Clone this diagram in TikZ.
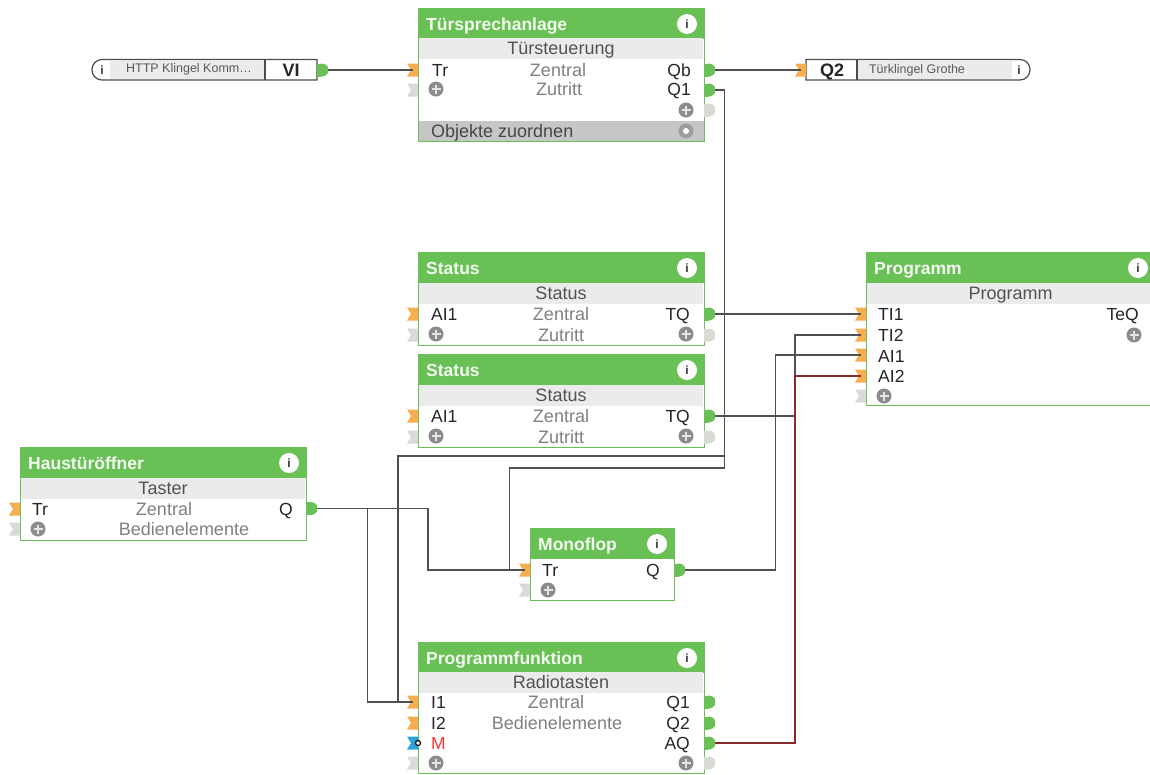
\documentclass[tikz,border=0pt]{standalone}
\usepackage{fontspec}
\setmainfont{Liberation Sans}
\definecolor{lxgreen}{HTML}{69C054}
\definecolor{lxband}{HTML}{EBEBEB}
\definecolor{lxfoot}{HTML}{C6C6C6}
\definecolor{lxorange}{HTML}{F7AE50}
\definecolor{lxpale}{HTML}{DADAD6}
\definecolor{lxicon}{HTML}{8C8C8C}
\definecolor{lxwire}{HTML}{505050}
\definecolor{lxred}{HTML}{8A2B2B}
\definecolor{lxblue}{HTML}{2CA3DC}
\newcommand\fsz[1]{\fontsize{#1}{#1}\selectfont}
\tikzset{
  x=1pt,y=-1pt,
  fixedline/.style={text height=12.4pt,text depth=0pt,inner sep=0pt},
  blockbody/.style={draw=lxgreen,line width=1pt,fill=white,inner sep=0pt,outer sep=0pt,rectangle},
  titletext/.style={fixedline,font=\fsz{17.5}\bfseries,text=white!92!lxgreen,anchor=west},
  subtext/.style={fixedline,font=\fsz{18},text=black!68},
  porttext/.style={fixedline,font=\fsz{17.5},text=black!85},
  fainttext/.style={fixedline,font=\fsz{18},text=black!50},
  wire/.style={draw=lxwire,line width=1.4pt},
  redwire/.style={draw=lxred,line width=1.4pt},
  objbox/.style={draw=black!70,line width=1.2pt,fill=white},
  objtext/.style={font=\fsz{12.5},text=black!65,inner sep=0pt},
  objpin/.style={fixedline,font=\fsz{18}\bfseries,text=black!85},
  roundicon/.style={circle,fill=lxicon,minimum size=15pt,inner sep=0pt,outer sep=0pt},
  infoicon/.style={circle,fill=white,minimum size=20pt,inner sep=0pt,outer sep=0pt,font=\fsz{12}\bfseries,text=black!80},
  smallinfo/.style={inner sep=0pt,font=\fsz{12}\bfseries,text=black!80},
}
% name x1 y1 x2 y2 title
\newcommand\lxblock[6]{%
  \node[blockbody,minimum width={(#4-#2)*1pt},minimum height={(#5-#3)*1pt}] (#1) at ({(#2+#4)/2},{(#3+#5)/2}) {};
  \fill[lxgreen] (#2-0.5,#3-0.5) rectangle (#4+0.5,#3+30.5);
  \node[titletext] (#1title) at (#2+8,#3+16) {#6};
  \node[infoicon] (#1info) at (#4-17,#3+16) {i};
}
% name x1 y x2 text : grey band
\newcommand\lxband[5]{%
  \fill[lxband] (#2+1,#3) rectangle (#4-1,#3+21);
  \node[subtext] (#1sub) at ({(#2+#4)/2},#3+10.5) {#5};
}
% name x y colour : entry pin, right edge at x
\newcommand\lxin[4]{%
  \fill[#4] (#2-11,#3-6.5) -- (#2,#3-6.5) -- (#2,#3+6.5) -- (#2-11,#3+6.5) -- (#2-7,#3) -- cycle;
  \coordinate (#1) at (#2-5,#3);
}
% name x y colour : exit pin, left edge at x
\newcommand\lxout[4]{%
  \fill[#4,rounded corners=4.5pt] (#2,#3-6.5) -- (#2+10,#3-6.5) -- (#2+11.5,#3) -- (#2+10,#3+6.5) -- (#2,#3+6.5) -- cycle;
  \fill[#4] (#2,#3-6.5) rectangle (#2+4,#3+6.5);
  \coordinate (#1) at (#2+11,#3);
}
% name x y : plus icon
\newcommand\lxplus[3]{%
  \node[roundicon] (#1) at (#2,#3) {};
  \draw[white!90!black,line width=1.5pt] (#2-4.5,#3) -- (#2+4.5,#3) (#2,#3-4.5) -- (#2,#3+4.5);
}
\begin{document}
\begin{tikzpicture}
\useasboundingbox (0,0) rectangle (1150,774);
\fill[white] (0,0) rectangle (1150,774);

% ---------- Türsprechanlage
\lxblock{ts}{418}{8}{704}{141}{Türsprechanlage}
\lxband{ts}{418}{38}{704}{Türsteuerung}
\fill[lxfoot] (418.5,121) rectangle (703.5,140.5);
\node[fixedline,font=\fsz{18},text=black!72,anchor=west] (tsfoot) at (431,131) {Objekte zuordnen};
\node[roundicon,fill=black!38] (tsgear) at (686,131) {};
\node[circle,fill=white,minimum size=6pt,inner sep=0pt] (tsgeardot) at (686,131) {};
\lxin{tsTr}{418}{70}{lxorange}
\lxin{tsAdd}{418}{90}{lxpale}
\node[porttext,anchor=west] (tsTrL) at (432,70) {Tr};
\lxplus{tsPlusL}{436}{89}
\node[fainttext] (tsZ) at (558,70) {Zentral};
\node[fainttext] (tsZu) at (559,89.5) {Zutritt};
\node[porttext,anchor=east] (tsQbL) at (691,70) {Qb};
\node[porttext,anchor=east] (tsQ1L) at (691,89.5) {Q1};
\lxout{tsQb}{704}{70}{lxgreen}
\lxout{tsQ1}{704}{90}{lxgreen}
\lxout{tsAdd2}{704}{110}{lxpale}
\lxplus{tsPlusR}{686}{110}

% ---------- left object
\draw[objbox] (317,59.5) [rounded corners=10pt] -- (92,59.5) -- (92,80) [sharp corners] -- (317,80) -- cycle;
\fill[lxband] (110,60.5) rectangle (265,79);
\draw[black!70,line width=1.2pt] (265,59.5) -- (265,80);
\node[smallinfo] (viinfo) at (102,70) {i};
\node[objtext] (vitext) at (189,69.5) {HTTP Klingel Komm\ldots};
\node[objpin] (vilabel) at (291,70) {VI};
\lxout{viout}{317}{70}{lxgreen}

% ---------- right object
\draw[objbox] (806,59.5) [rounded corners=10pt] -- (1030,59.5) -- (1030,80) [sharp corners] -- (806,80) -- cycle;
\fill[lxband] (858,60.5) rectangle (1012,79);
\draw[black!70,line width=1.2pt] (857,59.5) -- (857,80);
\node[objpin] (q2label) at (832,70) {Q2};
\node[objtext] (q2text) at (917,70) {Türklingel Grothe};
\node[smallinfo] (q2info) at (1019,70) {i};
\lxin{q2in}{806}{70}{lxorange}

% ---------- Status 1
\lxblock{sa}{418}{252}{704}{345}{Status}
\lxband{sa}{418}{283}{704}{Status}
\lxin{saAI}{418}{314}{lxorange}
\lxin{saAdd}{418}{335}{lxpale}
\node[porttext,anchor=west] (saL) at (431,314) {AI1};
\lxplus{saPL}{436}{334}
\node[fainttext] (saZ) at (561,314) {Zentral};
\node[fainttext] (saZu) at (561,335) {Zutritt};
\node[porttext,anchor=east] (saTQL) at (690,314) {TQ};
\lxout{saTQ}{704}{314}{lxgreen}
\lxout{saAdd2}{704}{335}{lxpale}
\lxplus{saPR}{686}{334}

% ---------- Status 2
\lxblock{sb}{418}{354}{704}{447}{Status}
\lxband{sb}{418}{385}{704}{Status}
\lxin{sbAI}{418}{416}{lxorange}
\lxin{sbAdd}{418}{437}{lxpale}
\node[porttext,anchor=west] (sbL) at (431,416) {AI1};
\lxplus{sbPL}{436}{436}
\node[fainttext] (sbZ) at (561,416) {Zentral};
\node[fainttext] (sbZu) at (561,437) {Zutritt};
\node[porttext,anchor=east] (sbTQL) at (690,416) {TQ};
\lxout{sbTQ}{704}{416}{lxgreen}
\lxout{sbAdd2}{704}{437}{lxpale}
\lxplus{sbPR}{686}{436}

% ---------- Programm
\lxblock{pg}{866}{252}{1155}{405}{Programm}
\lxband{pg}{866}{283}{1155}{Programm}
\lxin{pgT1}{866}{314}{lxorange}
\lxin{pgT2}{866}{335}{lxorange}
\lxin{pgA1}{866}{355}{lxorange}
\lxin{pgA2}{866}{376}{lxorange}
\lxin{pgAdd}{866}{396}{lxpale}
\node[porttext,anchor=west] (pgL1) at (878,314) {TI1};
\node[porttext,anchor=west] (pgL2) at (878,335) {TI2};
\node[porttext,anchor=west] (pgL3) at (878,356) {AI1};
\node[porttext,anchor=west] (pgL4) at (878,376) {AI2};
\lxplus{pgPL}{884}{396}
\node[porttext,anchor=east] (pgTeQ) at (1139,314) {TeQ};
\lxplus{pgPR}{1134}{335}

% ---------- Haustüröffner
\lxblock{ht}{20}{447}{306}{540}{Haustüröffner}
\lxband{ht}{20}{478}{306}{Taster}
\lxin{htTr}{20}{509}{lxorange}
\lxin{htAdd}{20}{529}{lxpale}
\node[porttext,anchor=west] (htTrL) at (32,509) {Tr};
\lxplus{htPL}{38}{529}
\node[fainttext] (htZ) at (164,509) {Zentral};
\node[fainttext] (htB) at (184,529.5) {Bedienelemente};
\node[porttext,anchor=east] (htQL) at (293,509) {Q};
\lxout{htQ}{306}{508.5}{lxgreen}

% ---------- Monoflop
\lxblock{mf}{530}{528}{674}{600}{Monoflop}
\lxin{mfTr}{530}{570}{lxorange}
\lxin{mfAdd}{530}{590}{lxpale}
\node[porttext,anchor=west] (mfTrL) at (542,570) {Tr};
\lxplus{mfPL}{548}{590}
\node[porttext,anchor=east] (mfQL) at (660,570) {Q};
\lxout{mfQ}{674}{570}{lxgreen}

% ---------- Programmfunktion
\lxblock{pf}{418}{642}{704}{773}{Programmfunktion}
\lxband{pf}{418}{672}{704}{Radiotasten}
\lxin{pfI1}{418}{702}{lxorange}
\lxin{pfI2}{418}{723}{lxorange}
\lxin{pfM}{418}{743}{lxblue}
\lxin{pfAdd}{418}{763}{lxpale}
\node[circle,draw=black,line width=1.2pt,fill=white,minimum size=5pt,inner sep=0pt] (pfMring) at (418,743) {};
\node[porttext,anchor=west] (pfL1) at (431,702) {I1};
\node[porttext,anchor=west] (pfL2) at (431,723) {I2};
\node[fixedline,font=\fsz{17.5},text=red!80!white,anchor=west] (pfL3) at (431,743.5) {M};
\lxplus{pfPL}{436}{763}
\node[fainttext] (pfZ) at (556,702) {Zentral};
\node[fainttext] (pfB) at (557,723) {Bedienelemente};
\node[porttext,anchor=east] (pfQ1L) at (690,702) {Q1};
\node[porttext,anchor=east] (pfQ2L) at (690,723) {Q2};
\node[porttext,anchor=east] (pfAQL) at (690,743) {AQ};
\lxout{pfQ1}{704}{702}{lxgreen}
\lxout{pfQ2}{704}{723}{lxgreen}
\lxout{pfAQ}{704}{743}{lxgreen}
\lxout{pfAdd2}{704}{763}{lxpale}
\lxplus{pfPR}{686}{763}

% ---------- junctions
\coordinate (railUp) at (724.5,90);
\coordinate (railA) at (724.5,456);
\coordinate (railB) at (724.5,468);
\coordinate (leftA) at (398,456);
\coordinate (leftB) at (509.5,468);
\coordinate (tapH) at (367.5,508.5);
\coordinate (bendH) at (428,508.5);
\coordinate (colA) at (795,416);
\coordinate (colM) at (775.5,570);
\coordinate (colR) at (795,743);

% ---------- connectors
\draw[wire] (viout) -- (tsTr);
\draw[wire] (tsQb) -- (q2in);
\draw[wire] (tsQ1) -- (railUp) -- (railB) -- (leftB) -- (leftB |- mfTr);
\draw[wire] (railA) -- (leftA) -- (leftA |- pfI1) -- (pfI1);
\draw[wire] (htQ) -- (bendH) -- (bendH |- mfTr) -- (mfTr);
\draw[wire] (tapH) -- (tapH |- pfI1) -- (pfI1);
\draw[wire] (saTQ) -- (pgT1);
\draw[wire] (sbTQ) -- (colA) -- (colA |- pgT2) -- (pgT2);
\draw[wire] (mfQ) -- (colM) -- (colM |- pgA1) -- (pgA1);
\draw[redwire] (pfAQ) -- (colR) -- (colR |- pgA2) -- (pgA2);
\end{tikzpicture}
\end{document}
